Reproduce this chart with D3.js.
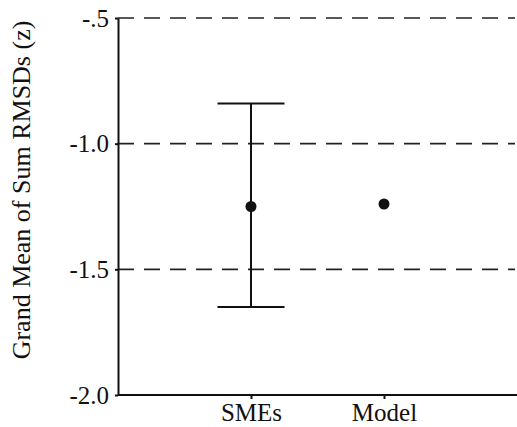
<!DOCTYPE html>
<html>
<head>
<meta charset="utf-8">
<script src="https://cdn.jsdelivr.net/npm/d3@7"></script>
<style>
  body { margin: 0; background: #fff; }
  svg { display: block; font-family: "Liberation Serif", "DejaVu Serif", serif; }
  .axis path, .axis line { stroke: #111; stroke-width: 2; }
  .axis text { fill: #111; font-family: "Liberation Serif", serif !important; font-size: 25px; }
  .grid-line { stroke: #222; stroke-width: 1.6; stroke-dasharray: 16,10; }
</style>
</head>
<body>
<svg id="chart" width="517" height="427"></svg>
<script>
const categories = ["SMEs", "Model"];
const means = [-1.25, -1.24];
const errLow = [-1.65, null];
const errHigh = [-0.84, null];
const yTicks = [-0.5, -1.0, -1.5, -2.0];
const yTickLabels = ["-.5", "-1.0", "-1.5", "-2.0"];
const yTitle = "Grand Mean of Sum RMSDs (z)";

const svg = d3.select("#chart");
const m = { top: 18, right: 0, bottom: 32, left: 118 };
const w = 517, h = 427;

const x = d3.scaleLinear().domain([0, 3]).range([m.left, w - m.right]);
const y = d3.scaleLinear().domain([-2.0, -0.5]).range([h - m.bottom, m.top]);

// dashed reference lines
svg.append("g").selectAll("line").data(yTicks.filter((d) => d > -2))
  .join("line").attr("class", "grid-line")
  .attr("x1", m.left).attr("x2", w - 2)
  .attr("y1", (d) => y(d)).attr("y2", (d) => y(d));

// y axis
const yAxis = svg.append("g").attr("class", "axis").attr("transform", `translate(${m.left},0)`)
  .call(d3.axisLeft(y).tickValues(yTicks).tickSize(3).tickSizeOuter(0)
    .tickFormat((d, i) => yTickLabels[i]));
yAxis.selectAll("text").attr("x", -9);

// x axis
const xAxis = svg.append("g").attr("class", "axis").attr("transform", `translate(0,${h - m.bottom})`)
  .call(d3.axisBottom(x).tickValues([1, 2]).tickSize(4).tickSizeOuter(0)
    .tickFormat((d) => categories[d - 1]));
xAxis.select(".domain").attr("d", `M${m.left},0H${w}`);
xAxis.selectAll("text").attr("y", 8);

// error bars
const capW = 67;
categories.forEach((c, i) => {
  if (errLow[i] == null) return;
  const cx = x(i + 1);
  const g = svg.append("g").attr("stroke", "#111").attr("stroke-width", 2);
  g.append("line").attr("x1", cx).attr("x2", cx).attr("y1", y(errHigh[i])).attr("y2", y(errLow[i]));
  g.append("line").attr("x1", cx - capW / 2).attr("x2", cx + capW / 2).attr("y1", y(errHigh[i])).attr("y2", y(errHigh[i]));
  g.append("line").attr("x1", cx - capW / 2).attr("x2", cx + capW / 2).attr("y1", y(errLow[i])).attr("y2", y(errLow[i]));
});

// mean points
svg.append("g").selectAll("circle").data(means).join("circle")
  .attr("cx", (d, i) => x(i + 1)).attr("cy", (d) => y(d))
  .attr("r", 5.5).attr("fill", "#111");

// y title
svg.append("text")
  .attr("transform", `translate(30,190) rotate(-90)`)
  .attr("text-anchor", "middle").attr("font-size", 26).attr("fill", "#111")
  .text(yTitle);
</script>
</body>
</html>
